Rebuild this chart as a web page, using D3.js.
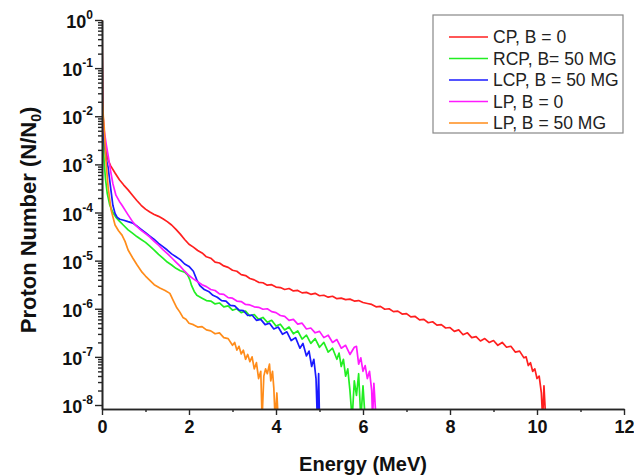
<!DOCTYPE html>
<html><head><meta charset="utf-8">
<script src="https://cdn.jsdelivr.net/npm/d3@7"></script>
<style>
body{margin:0;background:#fff}
svg{display:block}
text{font-family:"Liberation Sans",Arial,Helvetica,sans-serif}
</style>
</head><body>
<svg id="chart" width="634" height="476"></svg>
<script>
// Series labels and colours
const seriesNames = ["CP, B = 0", "RCP, B= 50 MG", "LCP, B = 50 MG", "LP, B = 0", "LP, B = 50 MG"];
const seriesColors = ["#ff1f1f", "#22ee22", "#1a1aff", "#ff1aff", "#ff8c1a"];

// Axis ticks
const energyTicks = [0, 2, 4, 6, 8, 10, 12];
const energyMinorTicks = [1, 3, 5, 7, 9, 11];
const decadeExponents = [0, -1, -2, -3, -4, -5, -6, -7, -8];

// Data: [Energy (MeV), log10(N/N0)]
const cpData = [[0,0],[0.01,-1.0],[0.02,-1.87],[0.04,-2.3],[0.07,-2.6],[0.1,-2.78],[0.15,-2.93],[0.2,-3.03],[0.3,-3.18],[0.4,-3.32],[0.5,-3.43],[0.6,-3.53],[0.7,-3.64],[0.8,-3.75],[0.9,-3.85],[1.0,-3.93],[1.1,-3.99],[1.2,-4.04],[1.3,-4.08],[1.4,-4.13],[1.5,-4.19],[1.6,-4.26],[1.7,-4.35],[1.8,-4.45],[1.9,-4.56],
[2.0,-4.66],[2.1,-4.72],[2.2,-4.79],[2.3,-4.84],[2.4,-4.92],[2.5,-4.95],[2.6,-5.03],[2.7,-5.05],[2.8,-5.11],[2.9,-5.14],[3.0,-5.20],[3.1,-5.22],[3.2,-5.29],[3.3,-5.31],[3.4,-5.37],[3.5,-5.40],[3.6,-5.45],[3.7,-5.46],[3.8,-5.51],[3.9,-5.50],[4.0,-5.55],[4.1,-5.56],[4.2,-5.60],[4.3,-5.58],[4.4,-5.63],[4.5,-5.62],[4.6,-5.67],[4.7,-5.66],[4.8,-5.70],[4.9,-5.68],[5.0,-5.73],[5.1,-5.72],[5.2,-5.76],[5.3,-5.74],[5.4,-5.79],[5.5,-5.78],[5.6,-5.81],[5.7,-5.80],[5.8,-5.84],[5.9,-5.83],[6.0,-5.87],[6.1,-5.89],[6.2,-5.91],[6.3,-5.96],[6.4,-5.95],[6.5,-6.01],[6.6,-6.00],[6.7,-6.06],[6.8,-6.05],[6.9,-6.11],[7.0,-6.10],[7.1,-6.17],[7.2,-6.16],[7.3,-6.23],[7.4,-6.22],[7.5,-6.29],[7.6,-6.27],[7.7,-6.34],[7.8,-6.33],[7.9,-6.40],[8.0,-6.39],[8.1,-6.47],[8.2,-6.44],[8.3,-6.54],[8.4,-6.50],[8.5,-6.60],[8.6,-6.58],[8.7,-6.67],[8.8,-6.62],[8.9,-6.70],[9.0,-6.66],[9.1,-6.76],[9.2,-6.70],[9.3,-6.80],[9.4,-6.78],[9.5,-6.90],[9.6,-6.88],[9.7,-7.02],[9.75,-7.00],[9.8,-7.18],[9.85,-7.12],[9.9,-7.30],[9.95,-7.25],[10.0,-7.45],[10.05,-7.40],[10.1,-7.75],[10.13,-8.3],[10.16,-7.6],[10.2,-8.3]];

const rcpData = [[0,0],[0.01,-1.97],[0.03,-2.6],[0.05,-2.95],[0.08,-3.3],[0.12,-3.6],[0.18,-3.85],[0.25,-4.0],[0.32,-4.10],[0.4,-4.18],[0.5,-4.27],[0.6,-4.36],[0.7,-4.43],[0.8,-4.50],[0.9,-4.56],[1.0,-4.62],[1.1,-4.70],[1.2,-4.78],[1.3,-4.87],[1.4,-4.95],[1.5,-5.03],[1.6,-5.09],[1.7,-5.16],[1.8,-5.21],[1.9,-5.24],[1.97,-5.30],[2.02,-5.40],[2.06,-5.52],[2.12,-5.64],[2.18,-5.72],[2.3,-5.78],
[2.4,-5.83],[2.5,-5.84],[2.6,-5.90],[2.7,-5.88],[2.8,-5.96],[2.9,-5.94],[3.0,-6.03],[3.1,-6.00],[3.2,-6.08],[3.3,-6.05],[3.4,-6.15],[3.5,-6.12],[3.6,-6.22],[3.7,-6.18],[3.8,-6.28],[3.9,-6.24],[4.0,-6.36],[4.1,-6.32],[4.2,-6.44],[4.3,-6.38],[4.4,-6.52],[4.5,-6.46],[4.6,-6.63],[4.7,-6.55],[4.8,-6.72],[4.9,-6.62],[5.0,-6.80],[5.1,-6.70],[5.2,-6.90],[5.3,-6.82],[5.4,-7.05],[5.45,-6.92],[5.5,-7.20],[5.55,-7.05],[5.6,-7.40],[5.65,-7.25],[5.7,-7.70],[5.75,-8.3],[5.8,-7.5],[5.85,-7.8],[5.9,-7.35],[5.95,-8.3],[6.0,-7.6],[6.05,-8.3]];

const lcpData = [[0,0],[0.01,-1.87],[0.03,-2.3],[0.05,-2.55],[0.1,-2.9],[0.14,-3.06],[0.2,-3.5],[0.25,-3.85],[0.3,-4.02],[0.35,-4.10],[0.41,-4.14],[0.5,-4.16],[0.6,-4.19],[0.71,-4.22],[0.8,-4.28],[0.9,-4.35],[1.0,-4.42],[1.1,-4.49],[1.2,-4.56],[1.3,-4.64],[1.4,-4.71],[1.5,-4.78],[1.6,-4.86],[1.7,-4.92],[1.8,-4.98],[1.9,-5.07],[2.0,-5.12],[2.1,-5.22],[2.18,-5.40],[2.25,-5.52],[2.35,-5.60],[2.45,-5.64],[2.55,-5.72],[2.65,-5.76],[2.75,-5.83],[2.85,-5.84],[2.95,-5.93],[3.05,-5.94],[3.15,-6.03],[3.25,-6.04],[3.35,-6.14],[3.45,-6.13],[3.55,-6.24],[3.65,-6.22],[3.75,-6.33],[3.85,-6.30],[3.95,-6.42],[4.05,-6.38],[4.15,-6.53],[4.25,-6.48],[4.35,-6.66],[4.45,-6.60],[4.55,-6.82],[4.62,-6.72],[4.7,-6.98],[4.76,-6.88],[4.82,-7.20],[4.87,-7.05],[4.92,-7.45],[4.95,-8.3],[4.98,-7.35],[5.0,-8.3]];

const lpData = [[0,0],[0.01,-1.87],[0.05,-2.29],[0.1,-2.6],[0.14,-2.81],[0.2,-3.15],[0.25,-3.40],[0.32,-3.64],[0.4,-3.77],[0.46,-3.85],[0.6,-4.05],[0.71,-4.20],[0.8,-4.29],[0.9,-4.37],[1.0,-4.44],[1.1,-4.51],[1.2,-4.60],[1.3,-4.68],[1.4,-4.77],[1.51,-4.86],[1.6,-4.94],[1.7,-5.03],[1.79,-5.11],[1.9,-5.22],[2.0,-5.31],[2.1,-5.38],[2.2,-5.44],[2.3,-5.50],[2.4,-5.54],[2.5,-5.60],[2.6,-5.62],[2.7,-5.69],[2.8,-5.70],[2.9,-5.77],[3.0,-5.78],[3.1,-5.84],[3.2,-5.85],[3.3,-5.91],[3.4,-5.92],[3.5,-5.96],[3.6,-5.97],[3.7,-6.01],[3.8,-6.00],[3.9,-6.06],[4.0,-6.08],[4.1,-6.14],[4.2,-6.16],[4.3,-6.24],[4.4,-6.22],[4.5,-6.32],[4.6,-6.30],[4.7,-6.42],[4.8,-6.40],[4.9,-6.50],[5.0,-6.47],[5.1,-6.60],[5.2,-6.55],[5.3,-6.70],[5.4,-6.64],[5.5,-6.82],[5.6,-6.76],[5.7,-6.95],[5.8,-6.80],[5.85,-6.78],[5.9,-7.15],[5.95,-7.02],[6.0,-7.30],[6.05,-7.18],[6.1,-7.45],[6.15,-7.30],[6.2,-7.70],[6.22,-8.3],[6.25,-7.55],[6.3,-8.3]];

const lp50Data = [[0,0],[0.01,-1.66],[0.03,-2.0],[0.05,-2.22],[0.09,-2.91],[0.14,-3.47],[0.21,-3.95],[0.3,-4.26],[0.38,-4.38],[0.46,-4.47],[0.53,-4.6],[0.6,-4.78],[0.71,-4.95],[0.8,-5.08],[0.92,-5.24],[1.0,-5.32],[1.1,-5.41],[1.2,-5.50],[1.33,-5.57],[1.45,-5.62],[1.56,-5.68],[1.65,-5.85],[1.72,-5.98],[1.79,-6.07],[1.86,-6.18],[1.93,-6.22],[2.0,-6.30],[2.1,-6.33],[2.2,-6.38],[2.3,-6.37],[2.4,-6.44],[2.5,-6.46],[2.6,-6.52],[2.7,-6.50],[2.8,-6.60],[2.9,-6.62],[3.0,-6.76],[3.05,-6.70],[3.1,-6.86],[3.15,-6.78],[3.2,-6.94],[3.25,-6.86],[3.3,-7.05],[3.35,-6.95],[3.4,-7.10],[3.45,-7.00],[3.5,-7.25],[3.55,-7.12],[3.6,-7.45],[3.65,-7.30],[3.68,-8.3],[3.72,-7.40],[3.76,-7.25],[3.8,-7.35],[3.85,-7.15],[3.88,-7.50],[3.92,-7.30],[3.95,-7.65],[3.98,-8.3],[4.02,-7.75],[4.05,-8.3]];

const allSeries = [cpData, rcpData, lcpData, lpData, lp50Data];

const svg = d3.select("#chart");
const x = d3.scaleLinear().domain([0, 12]).range([102, 624]);
const y = d3.scaleLog().domain([Math.pow(10, -8.083), 1]).range([409, 20]);
const axisColor = "#262626";

// clip
svg.append("defs").append("clipPath").attr("id", "plotClip")
  .append("rect").attr("x", x(0)).attr("y", y(1) - 2).attr("width", x(12) - x(0)).attr("height", y.range()[0] - y(1) + 2);

// lines
const line = d3.line().x(d => x(d[0])).y(d => y(Math.pow(10, d[1])));
const gLines = svg.append("g").attr("clip-path", "url(#plotClip)");
allSeries.forEach((s, i) => {
  gLines.append("path").datum(s).attr("d", line)
    .attr("fill", "none").attr("stroke", seriesColors[i]).attr("stroke-width", 1.7)
    .attr("stroke-linejoin", "round");
});

// y axis
const majorY = decadeExponents.map(e => Math.pow(10, e));
const minorY = [];
decadeExponents.slice(1).forEach(e => { for (let m = 2; m <= 9; m++) minorY.push(m * Math.pow(10, e)); });
const yMinorAxis = svg.append("g").attr("transform", `translate(${x(0)},0)`)
  .call(d3.axisLeft(y).tickValues(minorY).tickSize(4).tickSizeOuter(0).tickFormat(""));
const yAxis = svg.append("g").attr("transform", `translate(${x(0)},0)`)
  .call(d3.axisLeft(y).tickValues(majorY).tickSize(7).tickSizeOuter(0).tickFormat(""));
[yMinorAxis, yAxis].forEach(g => {
  g.selectAll("line").attr("stroke", axisColor).attr("stroke-width", 1.4);
  g.select(".domain").attr("stroke", axisColor).attr("stroke-width", 1.6);
});
// y tick labels with superscripts
decadeExponents.forEach(e => {
  const ty = y(Math.pow(10, e));
  const t = svg.append("text").attr("x", 93).attr("y", ty + 8)
    .attr("text-anchor", "end").attr("font-weight", "bold").attr("fill", "#111");
  t.append("tspan").attr("font-size", 18).text("10");
  t.append("tspan").attr("font-size", 12).attr("dy", -9).text(String(e));
});

// x axis
const xMinorAxis = svg.append("g").attr("transform", `translate(0,${y.range()[0]})`)
  .call(d3.axisBottom(x).tickValues(energyMinorTicks).tickSize(3).tickSizeOuter(0).tickFormat(""));
const xAxis = svg.append("g").attr("transform", `translate(0,${y.range()[0]})`)
  .call(d3.axisBottom(x).tickValues(energyTicks).tickSize(6).tickSizeOuter(0).tickFormat(d3.format("d")));
[xMinorAxis, xAxis].forEach(g => {
  g.selectAll("line").attr("stroke", axisColor).attr("stroke-width", 1.4);
  g.select(".domain").attr("stroke", axisColor).attr("stroke-width", 1.6);
});
xAxis.selectAll("text").attr("font-size", 18).attr("font-weight", "bold").attr("fill", "#111")
  .attr("font-family", "Liberation Sans, Arial, sans-serif").attr("dy", "0.85em");

// axis titles
svg.append("text").attr("x", 363).attr("y", 471).attr("text-anchor", "middle")
  .attr("font-size", 20).attr("font-weight", "bold").attr("fill", "#111").text("Energy (MeV)");
const yt = svg.append("text").attr("transform", "translate(36,220) rotate(-90)").attr("text-anchor", "middle")
  .attr("font-size", 22).attr("font-weight", "bold").attr("fill", "#111");
yt.append("tspan").text("Proton Number (N/N");
yt.append("tspan").attr("font-size", 14).attr("dy", 5).text("0");
yt.append("tspan").attr("dy", -5).text(")");

// legend
const lg = svg.append("g");
lg.append("rect").attr("x", 433).attr("y", 15).attr("width", 190).attr("height", 118)
  .attr("fill", "#fff").attr("stroke", "#888").attr("stroke-width", 1.2);
seriesNames.forEach((n, i) => {
  const ly = 37 + i * 21.5;
  lg.append("line").attr("x1", 449).attr("x2", 488).attr("y1", ly).attr("y2", ly)
    .attr("stroke", seriesColors[i]).attr("stroke-width", 1.6);
  lg.append("text").attr("x", 493).attr("y", ly + 6).attr("font-size", 17.5).attr("fill", "#222").text(n);
});
</script>
</body></html>
